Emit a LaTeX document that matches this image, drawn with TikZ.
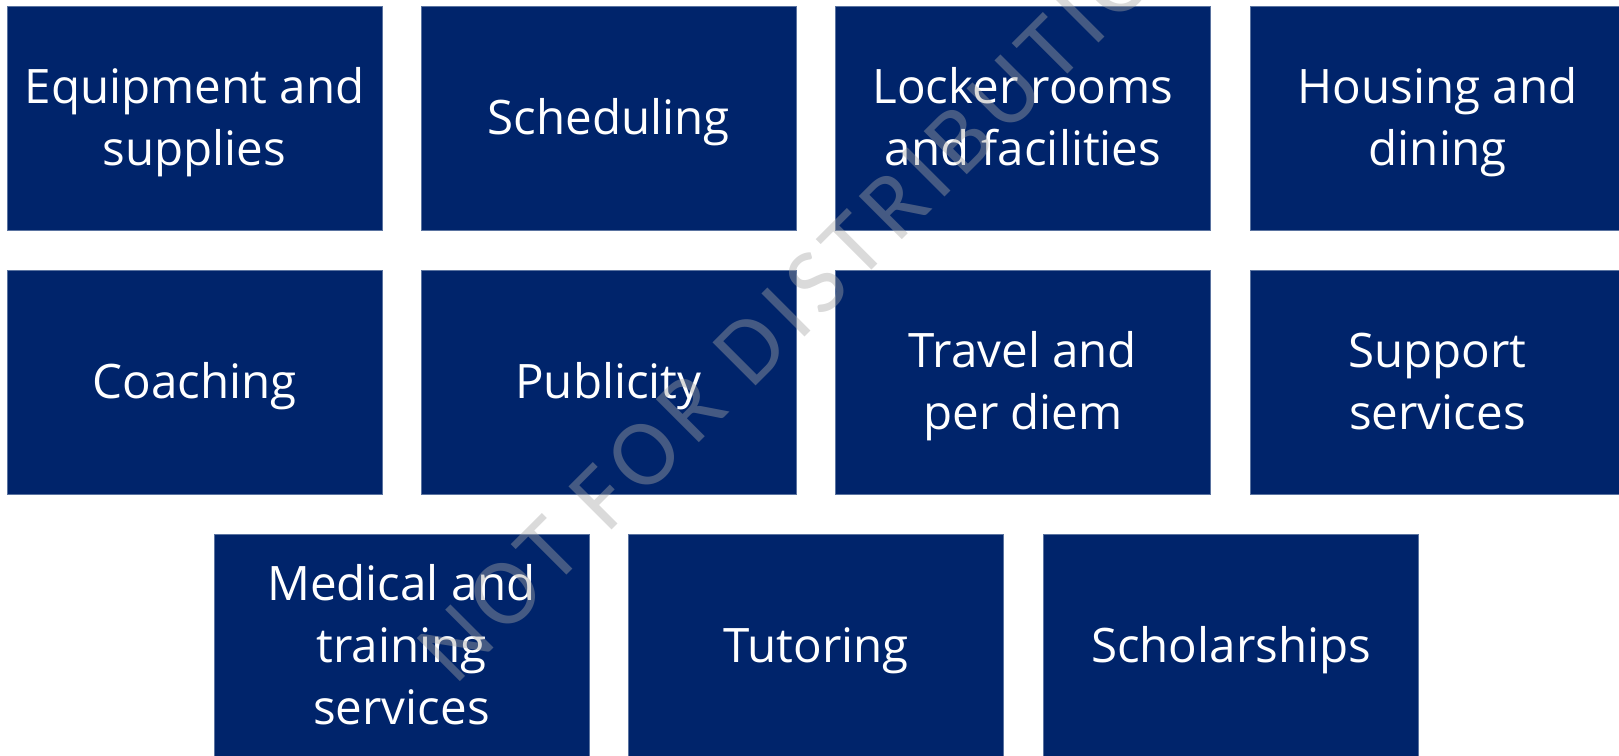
\documentclass[tikz,border=0pt]{standalone}
\usepackage{fontspec}
\setmainfont{Open Sans}
\newfontfamily\wmfont[LetterSpace=9]{Carlito}
\definecolor{navy}{RGB}{0,36,107}
\definecolor{navyedge}{RGB}{90,115,160}
\definecolor{wmgray}{RGB}{166,166,166}
\newcommand\ls{\rule[-13pt]{0pt}{58pt}}
\tikzset{
  box/.style={fill=navy, draw=navyedge, line width=0.8pt,
    minimum width=375pt, minimum height=224pt, inner sep=0pt,
    text=white, align=center, font=\fontsize{47.5}{62}\selectfont},
  wmark/.style={inner sep=0pt, text=wmgray, text opacity=0.42,
    font=\wmfont\fontsize{95}{95}\selectfont}
}
\begin{document}
\begin{tikzpicture}[x=1pt,y=-1pt]
\useasboundingbox (0,0) rectangle (1619,755);
\clip (0,0) rectangle (1619,755);
% row 1
\node[box] (equip) at (194.5,118.25) {\ls Equipment and\\\ls supplies};
\node[box] (sched) at (608.5,118.25) {\ls Scheduling};
\node[box] (locker) at (1023,118.25) {\ls Locker rooms\\\ls and facilities};
\node[box] (housing) at (1437.5,118.25) {\ls Housing and\\\ls dining};
% row 2
\node[box] (coach) at (194.5,382) {\ls Coaching};
\node[box] (public) at (608.5,382) {\ls Publicity};
\node[box] (travel) at (1023,382) {\ls Travel and\\\ls per diem};
\node[box] (support) at (1437.5,382) {\ls Support\\\ls services};
% row 3
\node[box] (medical) at (401.5,646) {\ls Medical and\\\ls training\\\ls services};
\node[box] (tutor) at (816,646) {\ls Tutoring};
\node[box] (schol) at (1231,646) {\ls Scholarships};
% watermark
\node[wmark, rotate=45, anchor=base west] (wm) at (455,687) {NOT FOR DISTRIBUTION};
\end{tikzpicture}
\end{document}
